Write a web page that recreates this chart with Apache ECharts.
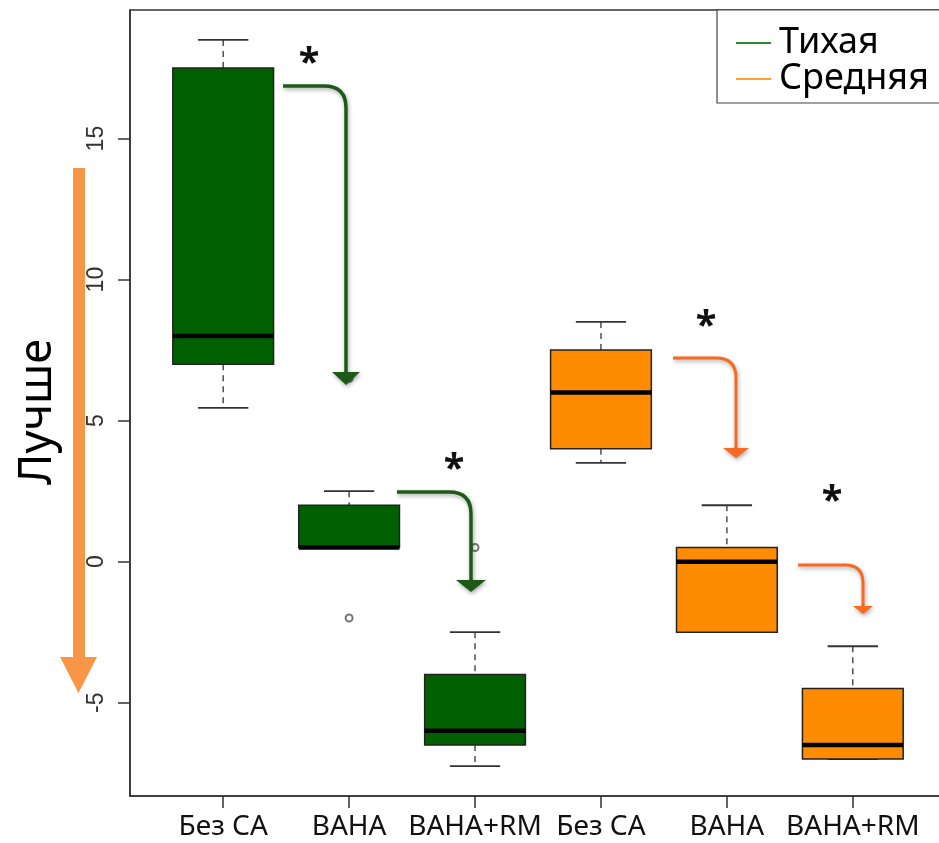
<!DOCTYPE html>
<html>
<head>
<meta charset="utf-8">
<script src="https://cdn.jsdelivr.net/npm/echarts@6/dist/echarts.min.js"></script>
<style>
  html, body { margin: 0; padding: 0; background: #fff; }
  #chart { width: 939px; height: 843px; }
</style>
</head>
<body>
<div id="chart"></div>
<script>
// categories along x (positions 1..6)
const categories = ['Без СА', 'BAHA', 'BAHA+RM', 'Без СА', 'BAHA', 'BAHA+RM'];
const groupNames = ['Тихая', 'Средняя'];
// box stats: [low whisker, Q1, median, Q3, high whisker]
const quietBoxes = [
  [5.45, 7, 8, 17.5, 18.5],
  [0.5, 0.5, 0.5, 2, 2.5],
  [-7.25, -6.5, -6, -4, -2.5]
];
const mediumBoxes = [
  [3.5, 4, 6, 7.5, 8.5],
  [-2.5, -2.5, 0, 0.5, 2],
  [-7, -7, -6.5, -4.5, -3]
];
// outliers: [position, value]
const quietOutliers = [[2, 6.5], [2, -2], [3, 0.5]];
const yTicks = [-5, 0, 5, 10, 15];
const xTicks = [1, 2, 3, 4, 5, 6];

const chart = echarts.init(document.getElementById('chart'));

function renderBox(params, api) {
  const x = api.value(0);
  const lo = api.value(1), q1 = api.value(2), md = api.value(3), q3 = api.value(4), hi = api.value(5);
  const hw = api.size([0.4, 0])[0];
  const cw = api.size([0.2, 0])[0];
  const cx = api.coord([x, md])[0];
  const py = v => api.coord([x, v])[1];
  const dash = { stroke: '#333', lineWidth: 1.3, lineDash: [6, 5] };
  const solid = { stroke: '#333', lineWidth: 1.8 };
  const children = [];
  if (hi > q3) children.push({ type: 'line', shape: { x1: cx, y1: py(hi), x2: cx, y2: py(q3) }, style: dash });
  if (lo < q1) children.push({ type: 'line', shape: { x1: cx, y1: py(q1), x2: cx, y2: py(lo) }, style: dash });
  children.push({ type: 'line', shape: { x1: cx - cw, y1: py(hi), x2: cx + cw, y2: py(hi) }, style: solid });
  children.push({ type: 'line', shape: { x1: cx - cw, y1: py(lo), x2: cx + cw, y2: py(lo) }, style: solid });
  children.push({
    type: 'rect',
    shape: { x: cx - hw, y: py(q3), width: hw * 2, height: py(q1) - py(q3) },
    style: { fill: api.visual('color'), stroke: '#222', lineWidth: 1.5 }
  });
  children.push({ type: 'line', shape: { x1: cx - hw, y1: py(md), x2: cx + hw, y2: py(md) }, style: { stroke: '#000', lineWidth: 4.5 } });
  return { type: 'group', children };
}

// annotation arrows (pixel layout of the overlay)
const arrows = [
  { x0: 283, y0: 86, xc: 346, r: 22, yh: 372, tip: 385, hw: 14, color: '#1d5a17', w: 3.5 },
  { x0: 397, y0: 492, xc: 471, r: 22, yh: 580, tip: 592, hw: 15, color: '#1d5a17', w: 3.5 },
  { x0: 673, y0: 358, xc: 736, r: 20, yh: 448, tip: 458, hw: 13, color: '#f76a20', w: 3 },
  { x0: 798, y0: 565, xc: 863, r: 18, yh: 606, tip: 614, hw: 10, color: '#f76a20', w: 3 }
];
const stars = [[309, 55], [454, 461], [706, 318], [832, 493]];

const shadow = { shadowBlur: 4, shadowColor: 'rgba(0,0,0,0.35)', shadowOffsetX: 1, shadowOffsetY: 2 };
const graphics = [];
arrows.forEach(a => {
  const st = Object.assign({ stroke: a.color, lineWidth: a.w, fill: null }, shadow);
  graphics.push(
    { type: 'line', z: 100, shape: { x1: a.x0, y1: a.y0, x2: a.xc - a.r, y2: a.y0 }, style: st },
    { type: 'bezierCurve', z: 100, shape: { x1: a.xc - a.r, y1: a.y0, cpx1: a.xc, cpy1: a.y0, x2: a.xc, y2: a.y0 + a.r }, style: st },
    { type: 'line', z: 100, shape: { x1: a.xc, y1: a.y0 + a.r, x2: a.xc, y2: a.yh }, style: st },
    { type: 'polygon', z: 100, shape: { points: [[a.xc - a.hw, a.yh], [a.xc + a.hw, a.yh], [a.xc, a.tip]] }, style: Object.assign({ fill: a.color }, shadow) }
  );
});
stars.forEach(s => {
  graphics.push({
    type: 'text', z: 100, x: s[0], y: s[1] + 9,
    style: { text: '*', font: 'bold 38px "Noto Sans"', fill: '#111', textAlign: 'center', textVerticalAlign: 'middle' }
  });
});
// big "better" arrow on the left
graphics.push(
  { type: 'rect', z: 100, shape: { x: 73, y: 168, width: 12, height: 490 }, style: { fill: '#f79646' } },
  { type: 'polygon', z: 100, shape: { points: [[60, 657], [97, 657], [78.5, 693]] }, style: { fill: '#f79646' } },
  {
    type: 'text', z: 100, x: 38, y: 412, rotation: Math.PI / 2,
    style: { text: 'Лучше', font: '45px "Noto Sans"', fill: '#000', textAlign: 'center', textVerticalAlign: 'middle' }
  },
  // legend frame, open past the right edge like the original
  { type: 'rect', z: 5, shape: { x: 717, y: 10, width: 260, height: 93 }, style: { fill: '#fff', stroke: '#444', lineWidth: 1.2 } }
);

const option = {
  animation: false,
  backgroundColor: '#fff',
  // plot region runs a little past the right edge of the picture
  grid: { left: 130, top: 10, width: 816, bottom: 47, show: true, borderColor: '#333', borderWidth: 1.5, outerBoundsMode: 'none' },
  legend: {
    orient: 'vertical',
    left: 717,
    top: 10,
    z: 10,
    padding: [15, 10, 13, 19],
    itemGap: 0,
    itemWidth: 35,
    itemHeight: 2,
    textStyle: { fontFamily: 'Noto Sans', fontSize: 36, color: '#000', lineHeight: 33, padding: [0, 0, 0, 3] },
    data: [
      { name: groupNames[0], icon: 'rect', itemStyle: { color: '#2a8a2a' } },
      { name: groupNames[1], icon: 'rect', itemStyle: { color: '#ffa030' } }
    ]
  },
  xAxis: {
    type: 'value',
    min: 0.26,
    max: 6.74,
    axisLine: { show: true, onZero: false, lineStyle: { color: '#333', width: 1.5 } },
    axisTick: { show: true, customValues: xTicks, length: 12, lineStyle: { color: '#333', width: 1.5 } },
    axisLabel: {
      customValues: xTicks,
      formatter: v => categories[Math.round(v) - 1],
      fontFamily: 'Noto Sans', fontSize: 28, color: '#111', margin: 17
    },
    splitLine: { show: false }
  },
  yAxis: {
    type: 'value',
    min: -8.31,
    max: 19.56,
    axisLine: { show: true, onZero: false, lineStyle: { color: '#333', width: 1.5 } },
    axisTick: { show: true, customValues: yTicks, length: 12, lineStyle: { color: '#333', width: 1.5 } },
    axisLabel: {
      customValues: yTicks,
      rotate: 90,
      fontFamily: 'Liberation Sans', fontSize: 23, color: '#333', margin: 22
    },
    splitLine: { show: false }
  },
  series: [
    {
      name: groupNames[0],
      type: 'custom',
      renderItem: renderBox,
      itemStyle: { color: '#006000' },
      encode: { x: 0, y: [1, 2, 3, 4, 5] },
      data: quietBoxes.map((b, i) => [i + 1].concat(b))
    },
    {
      name: groupNames[1],
      type: 'custom',
      renderItem: renderBox,
      itemStyle: { color: '#ff8c00' },
      encode: { x: 0, y: [1, 2, 3, 4, 5] },
      data: mediumBoxes.map((b, i) => [i + 4].concat(b))
    },
    {
      name: 'outliers',
      type: 'scatter',
      symbol: 'emptyCircle',
      symbolSize: 7,
      itemStyle: { color: '#555', borderWidth: 1 },
      data: quietOutliers
    }
  ],
  graphic: graphics
};

chart.setOption(option);
</script>
</body>
</html>
